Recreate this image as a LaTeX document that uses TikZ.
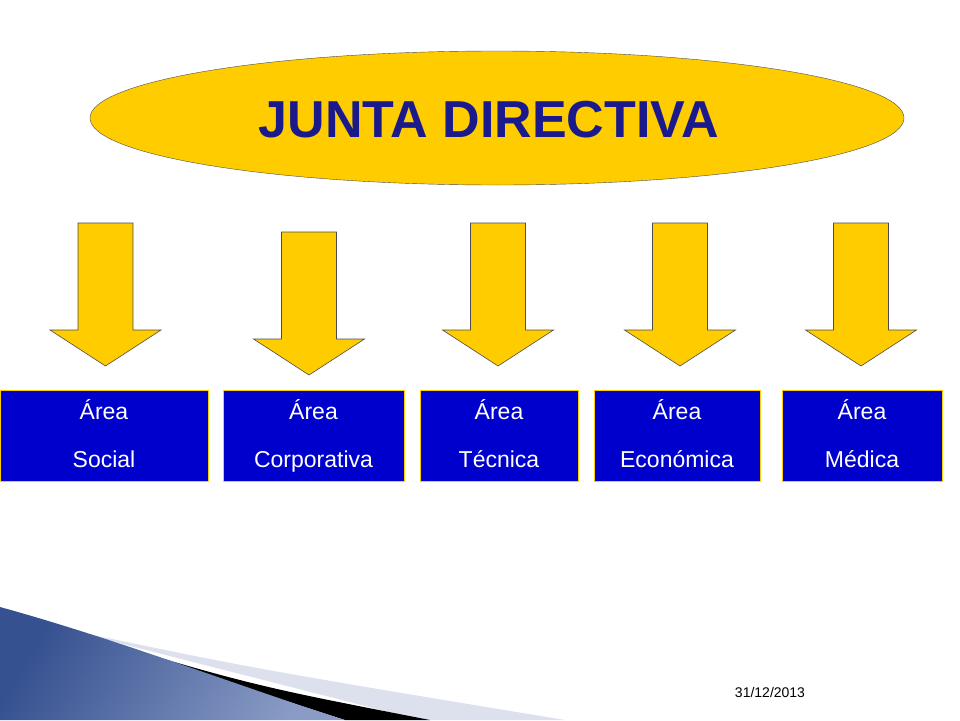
\documentclass[tikz,border=0pt]{standalone}
\usepackage{fontspec}
\setmainfont{Liberation Sans}
\usetikzlibrary{shapes.geometric}
\definecolor{gold}{RGB}{255,204,0}
\definecolor{navy}{RGB}{26,26,140}
\definecolor{areaBlue}{RGB}{0,0,204}
\definecolor{slideBlue}{RGB}{60,90,160}
\definecolor{paleStrip}{RGB}{221,225,238}
\begin{document}
\begin{tikzpicture}[x=1pt,y=-1pt,
    area/.style={draw=gold,fill=areaBlue,text=white,align=center,inner sep=0pt,minimum height=91pt,font=\fontsize{23}{48}\selectfont},
    blockarrow/.style={draw=black!70,fill=gold,line width=0.6pt}]
    \useasboundingbox (0,0) rectangle (960,720);
    % slide decoration
    \fill[paleStrip] (60,628) .. controls (250,668) .. (565,720) -- (420,720) -- cycle;
    \fill[black] (60,628) .. controls (250,685) .. (430,720) -- (345,720) -- cycle;
    \shade[left color=slideBlue!90!black,right color=slideBlue!60!white,shading angle=60]
        (0,607) .. controls (120,640) and (250,690) .. (345,720) -- (0,720) -- cycle;
    \node[ellipse,draw=black!70,fill=gold,minimum width=814pt,minimum height=134pt,inner sep=0pt] (junta) at (497,118) {};
    \node[text=navy,font=\bfseries\fontsize{52}{56}\selectfont] at (489,120) {JUNTA DIRECTIVA};
    % arrows
    \foreach \cx/\top in {105.5/223,309/232,498/223,680/223,861/223}{
      \draw[blockarrow] (\cx-27.5,\top) -- (\cx+27.5,\top) -- (\cx+27.5,\top+107) -- (\cx+55.5,\top+107)
        -- (\cx,\top+143) -- (\cx-55.5,\top+107) -- (\cx-27.5,\top+107) -- cycle;
    }
    \node[area,minimum width=208pt] (social) at (104,435.5) {Área\\Social\vphantom{p}};
    \node[area,minimum width=181pt] (corp) at (313.5,435.5) {Área\\Corporativa};
    \node[area,minimum width=158pt] (tecnica) at (499,435.5) {Área\\Técnica\vphantom{p}};
    \node[area,minimum width=166pt] (econ) at (677,435.5) {Área\\Económica\vphantom{p}};
    \node[area,minimum width=160pt] (medica) at (862,435.5) {Área\\Médica\vphantom{p}};
    \node[font=\fontsize{14}{16}\selectfont] (fecha) at (770,692) {31/12/2013};
\end{tikzpicture}
\end{document}
